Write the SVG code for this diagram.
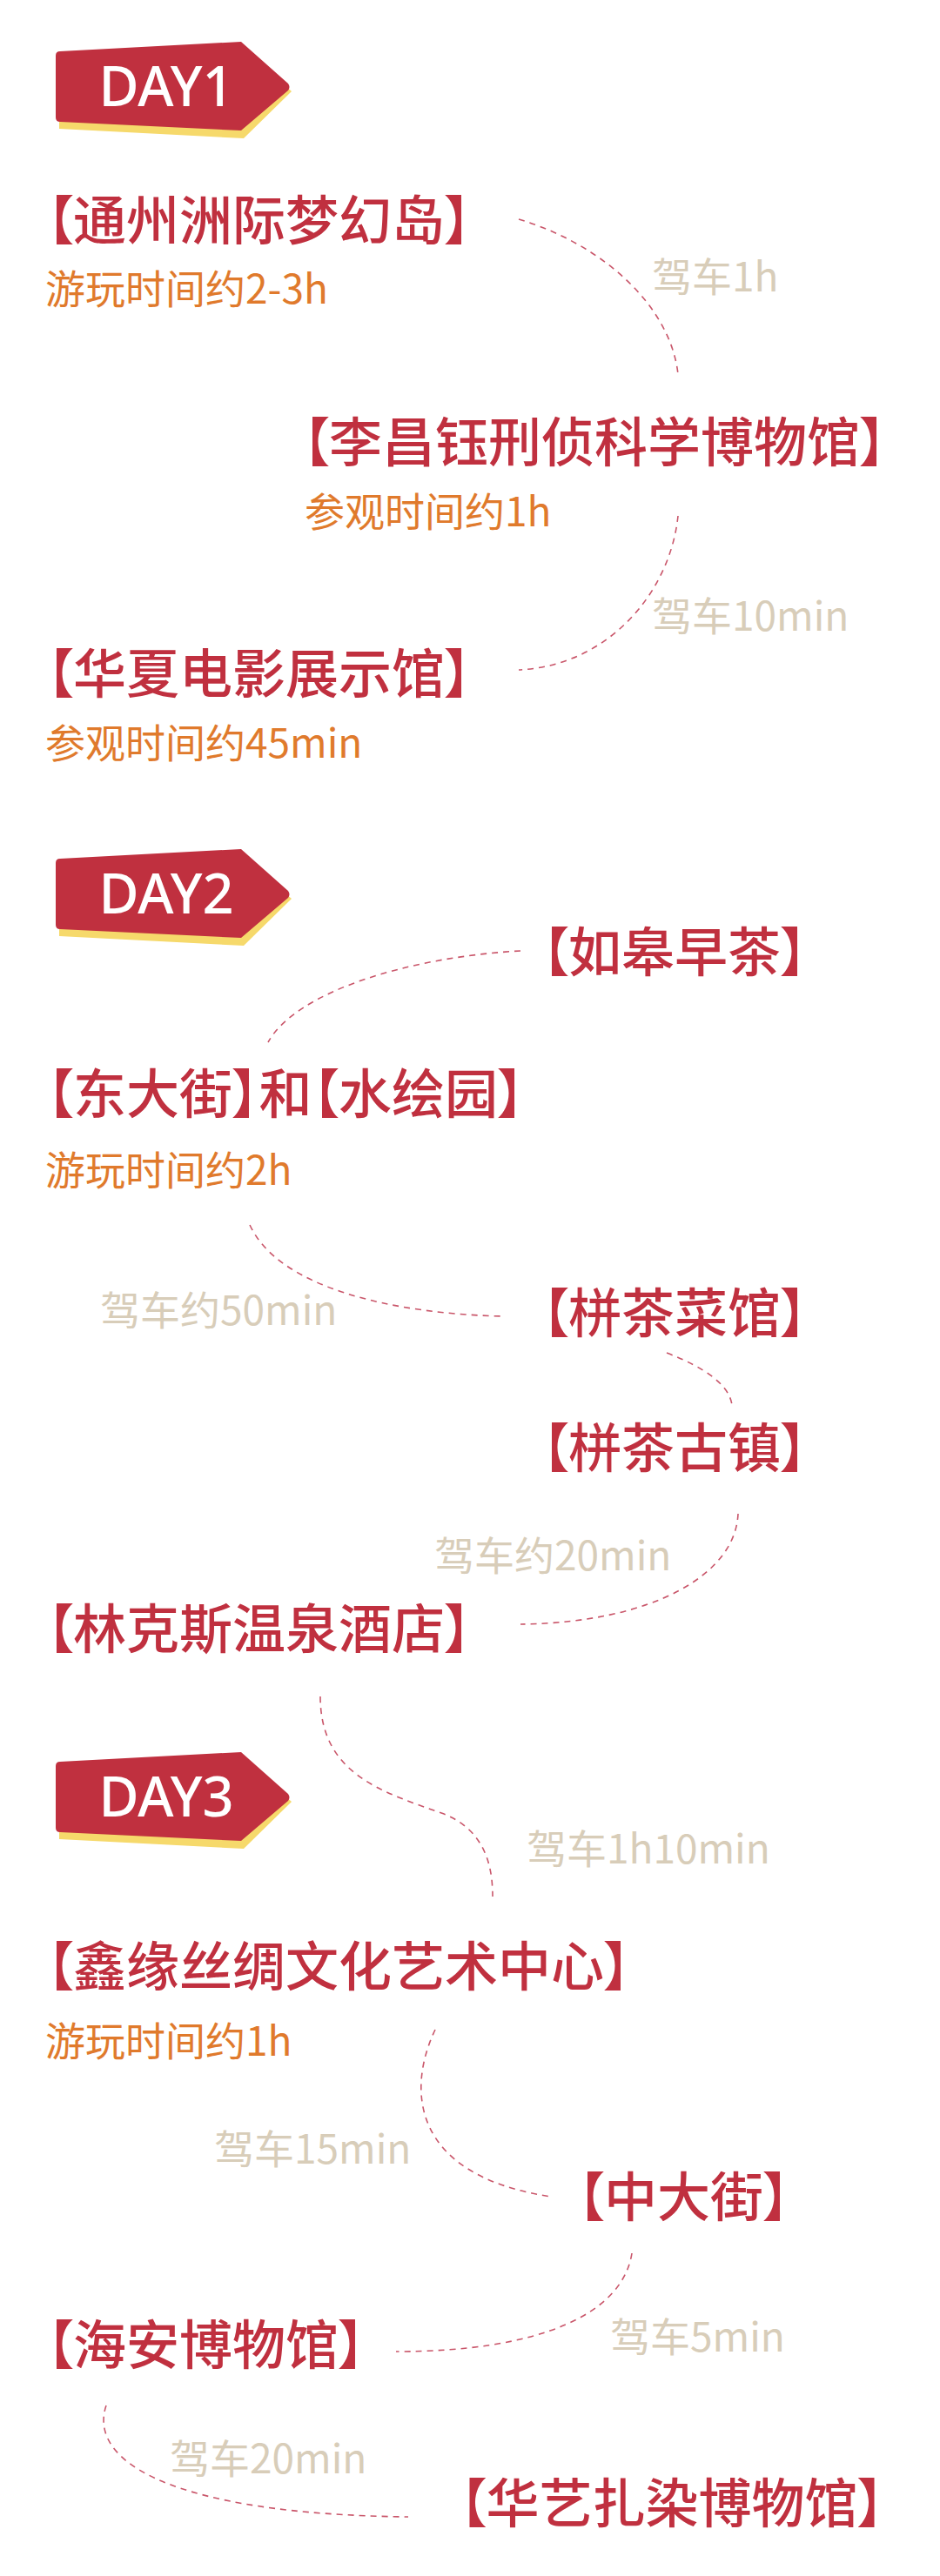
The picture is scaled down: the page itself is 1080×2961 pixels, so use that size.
<svg xmlns="http://www.w3.org/2000/svg" width="1080" height="2961" viewBox="0 0 1080 2961">
<defs>
<style>
.t{font-family:"Noto Sans CJK SC","Noto Sans",sans-serif;font-size:61px;font-weight:500;fill:#c0303f;font-feature-settings:"palt" 1}
.s{font-family:"Noto Sans CJK SC","Noto Sans",sans-serif;font-size:46px;font-weight:400;fill:#e07a2c}
.l{font-family:"Noto Sans CJK SC","Noto Sans",sans-serif;font-size:46px;font-weight:400;fill:#d8cdb9}
.d{font-family:"Noto Sans","Noto Sans CJK SC",sans-serif;font-size:63px;font-weight:500;fill:#ffffff;text-anchor:middle}
.c{fill:none;stroke:#c9566a;stroke-width:1.6;stroke-dasharray:7 6}
.br{fill:#c0303f}
.by{fill:#f6d96b}
</style>
<g id="banner">
<path class="by" d="M68,67 L280,57 L335,105 L280,159 L68,148 Z"/>
<path class="br" d="M69,59 L277,48 L331,96 Q334,100 331,104 L277,150 L69,140 Q64,140 64,135 L64,64 Q64,59 69,59 Z"/>
</g>
</defs>
<rect width="1080" height="2961" fill="#ffffff"/>

<g id="connectors">
<path class="c" d="M596,252 C690,280 770,350 779,430"/>
<path class="c" d="M779,593 C770,680 700,765 596,770"/>
<path class="c" d="M598,1093 C470,1100 340,1140 308,1198"/>
<path class="c" d="M287,1408 C320,1480 450,1510 578,1513"/>
<path class="c" d="M766,1555 C810,1572 838,1592 841,1615"/>
<path class="c" d="M848,1740 C845,1810 750,1865 598,1867"/>
<path class="c" d="M368,1950 C368,2040 440,2060 510,2085 C560,2105 566,2150 566,2180"/>
<path class="c" d="M500,2333 C468,2400 470,2500 633,2525"/>
<path class="c" d="M726,2590 C715,2660 620,2703 455,2703"/>
<path class="c" d="M122,2765 C100,2830 200,2890 469,2893"/>
</g>

<g id="day1"><use href="#banner"/><text class="d" x="191" y="122">DAY1</text></g>
<g id="day2"><use href="#banner" y="928"/><text class="d" x="191" y="1050">DAY2</text></g>
<g id="day3"><use href="#banner" y="1966"/><text class="d" x="191" y="2088">DAY3</text></g>

<g id="n1"><text class="t" x="53.5" y="276">【通州洲际梦幻岛】</text><text class="s" x="52" y="349">游玩时间约2-3h</text></g>
<g id="l1"><text class="l" x="749" y="335">驾车1h</text></g>
<g id="n2"><text class="t" x="347.5" y="531">【李昌钰刑侦科学博物馆】</text><text class="s" x="350" y="605">参观时间约1h</text></g>
<g id="l2"><text class="l" x="749" y="725">驾车10min</text></g>
<g id="n3"><text class="t" x="53.5" y="797">【华夏电影展示馆】</text><text class="s" x="52" y="871">参观时间约45min</text></g>

<g id="n4"><text class="t" x="622.5" y="1117">【如皋早茶】</text></g>
<g id="n5"><text class="t" x="53.5" y="1280">【东大街】和【水绘园】</text><text class="s" x="52" y="1362">游玩时间约2h</text></g>
<g id="l3"><text class="l" x="115" y="1523">驾车约50min</text></g>
<g id="n6"><text class="t" x="622.5" y="1532">【栟茶菜馆】</text></g>
<g id="n7"><text class="t" x="622.5" y="1687">【栟茶古镇】</text></g>
<g id="l4"><text class="l" x="499" y="1805">驾车约20min</text></g>
<g id="n8"><text class="t" x="53.5" y="1895">【林克斯温泉酒店】</text></g>

<g id="l5"><text class="l" x="605" y="2142">驾车1h10min</text></g>
<g id="n9"><text class="t" x="53.5" y="2283">【鑫缘丝绸文化艺术中心】</text><text class="s" x="52" y="2363">游玩时间约1h</text></g>
<g id="l6"><text class="l" x="246" y="2487">驾车15min</text></g>
<g id="n10"><text class="t" x="663.5" y="2548">【中大街】</text></g>
<g id="l7"><text class="l" x="701" y="2703">驾车5min</text></g>
<g id="n11"><text class="t" x="53.5" y="2718">【海安博物馆】</text></g>
<g id="l8"><text class="l" x="195" y="2843">驾车20min</text></g>
<g id="n12"><text class="t" x="528" y="2900">【华艺扎染博物馆】</text></g>
</svg>
